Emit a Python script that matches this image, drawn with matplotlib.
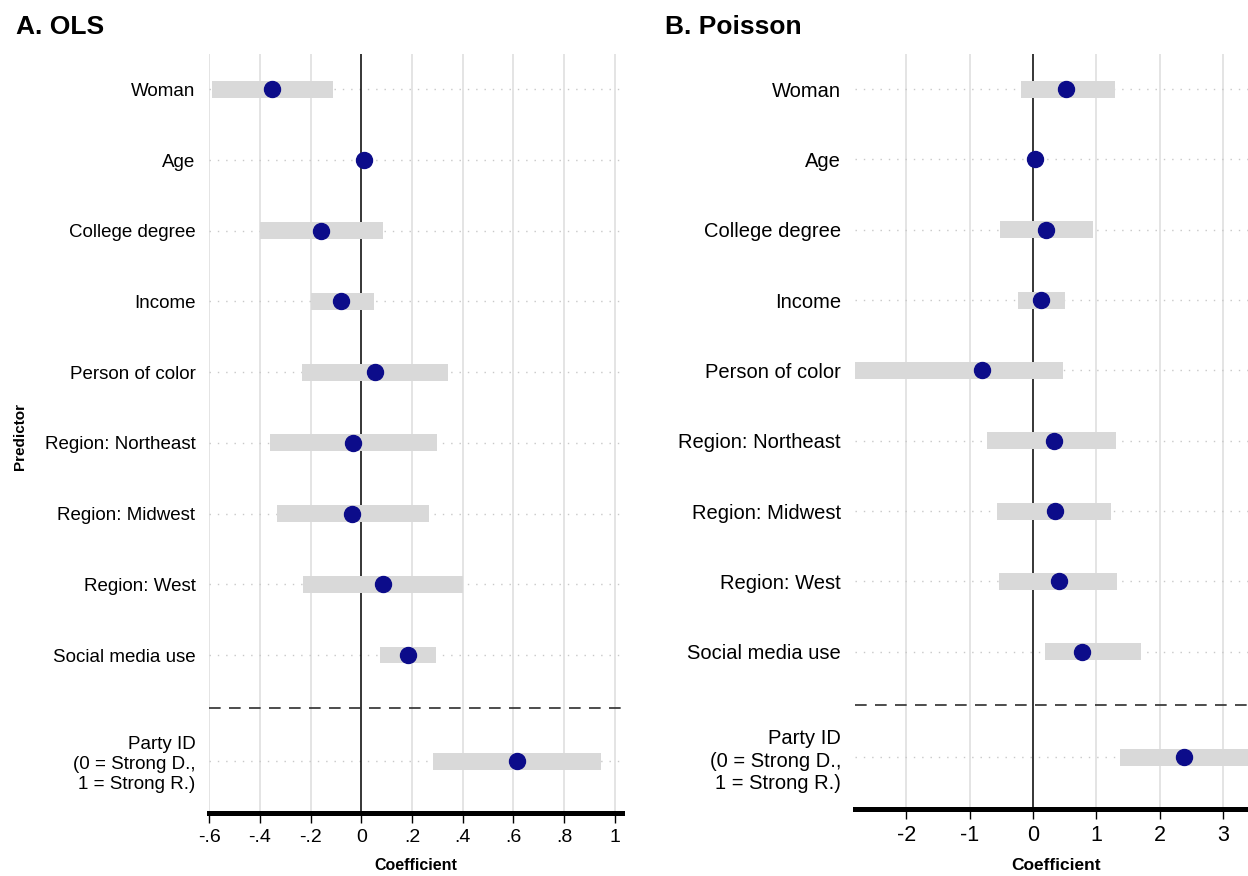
import matplotlib
matplotlib.use("Agg")
import matplotlib.pyplot as plt

plt.rcParams['font.family'] = ['Liberation Sans', 'DejaVu Sans']

labels = ["Woman", "Age", "College degree", "Income", "Person of color",
          "Region: Northeast", "Region: Midwest", "Region: West",
          "Social media use", "Party ID\n(0 = Strong D.,\n1 = Strong R.)"]
rows = [1, 2, 3, 4, 5, 6, 7, 8, 9, 10.5]

# A. OLS
ols_coef = [-0.351, 0.012, -0.158, -0.079, 0.055, -0.032, -0.036, 0.087, 0.185, 0.615]
ols_lo = [-0.588, 0.005, -0.400, -0.200, -0.233, -0.359, -0.331, -0.229, 0.075, 0.284]
ols_hi = [-0.110, 0.019, 0.087, 0.050, 0.343, 0.300, 0.268, 0.402, 0.296, 0.947]
ols_ticks = [-0.6, -0.4, -0.2, 0, 0.2, 0.4, 0.6, 0.8, 1]
ols_ticklabels = ["-.6", "-.4", "-.2", "0", ".2", ".4", ".6", ".8", "1"]

# B. Poisson
poi_coef = [0.527, 0.04, 0.21, 0.13, -0.81, 0.34, 0.355, 0.42, 0.78, 2.39]
poi_lo = [-0.19, 0.00, -0.52, -0.235, -2.81, -0.73, -0.57, -0.54, 0.19, 1.37]
poi_hi = [1.29, 0.08, 0.95, 0.507, 0.48, 1.31, 1.23, 1.33, 1.71, 3.41]
poi_ticks = [-2, -1, 0, 1, 2, 3]
poi_ticklabels = ["-2", "-1", "0", "1", "2", "3"]

BAR = "#d9d9d9"
DOT = "#0c0c8a"


def panel(ax, coef, lo, hi, ticks, ticklabels, xlim, lab_size, tick_size, xl_size):
    ax.set_xlim(*xlim)
    ax.set_ylim(11.235, 0.5)
    for t in ticks:
        if t != 0:
            ax.axvline(t, color="#dcdcdc", lw=1.1, zorder=0)
    for r in rows:
        ax.axhline(r, color="#c8c8c8", lw=1.0, ls=(0, (1, 5)), zorder=1)
    ax.axvline(0, color="black", lw=1.1, zorder=2)
    widths = [h - l for l, h in zip(lo, hi)]
    ax.barh(rows, widths, left=lo, height=0.24, color=BAR, zorder=3)
    # separator between controls and party ID
    ax.axhline(9.75, color="#2e2e2e", lw=1.2, ls=(0, (7, 5)), zorder=4)
    ax.plot(coef, rows, "o", color=DOT, ms=11.5, zorder=5)

    ax.set_yticks(rows)
    ax.set_yticklabels(labels, fontsize=lab_size, linespacing=1.25)
    ax.tick_params(axis="y", length=0, pad=10)
    ax.set_xticks(ticks)
    ax.set_xticklabels(ticklabels, fontsize=tick_size)
    ax.tick_params(axis="x", length=7.5, width=1, pad=4, direction="out")
    for s in ["top", "right", "left"]:
        ax.spines[s].set_visible(False)
    ax.spines["bottom"].set_linewidth(3.6)
    ax.set_xlabel("Coefficient", fontsize=xl_size, fontweight="bold", labelpad=9)


fig = plt.figure(figsize=(12.48, 8.76), dpi=100)
ax1 = fig.add_axes([0.1677, 0.0719, 0.3304, 0.8664])
ax2 = fig.add_axes([0.6851, 0.0765, 0.3216, 0.8619])

panel(ax1, ols_coef, ols_lo, ols_hi, ols_ticks, ols_ticklabels, (-0.6, 1.0275), 13.5, 14, 11.5)
panel(ax2, poi_coef, poi_lo, poi_hi, poi_ticks, poi_ticklabels, (-2.81, 3.53), 14.5, 15.5, 12.5)

fig.text(16 / 1248, 1 - 27 / 876, "A. OLS", fontsize=19, fontweight="bold", va="center", ha="left")
fig.text(665 / 1248, 1 - 27 / 876, "B. Poisson", fontsize=19, fontweight="bold", va="center", ha="left")
fig.text(20 / 1248, 1 - 437 / 876, "Predictor", fontsize=11, fontweight="bold",
         rotation=90, va="center", ha="center")

fig.savefig("out.png", dpi=100)
